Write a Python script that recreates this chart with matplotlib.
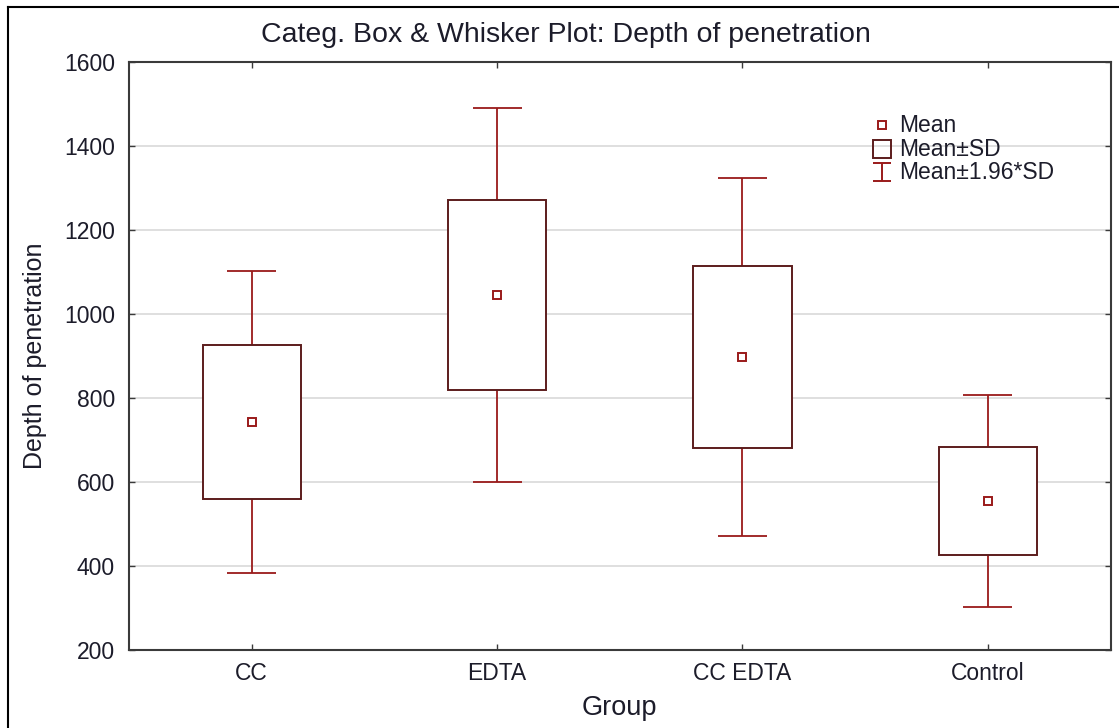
import matplotlib
matplotlib.use("Agg")
import matplotlib.pyplot as plt
from matplotlib.path import Path
from matplotlib.lines import Line2D
import numpy as np

# ---- data ----
groups = ["CC", "EDTA", "CC EDTA", "Control"]
means = [743, 1046, 898, 555]
sds = [184, 227, 217, 129]
z = 1.96
yticks = [200, 400, 600, 800, 1000, 1200, 1400, 1600]

title = "Categ. Box & Whisker Plot: Depth of penetration"
xlabel = "Group"
ylabel = "Depth of penetration"
legend_labels = ["Mean", "Mean\u00b1SD", "Mean\u00b11.96*SD"]

# ---- style ----
plt.rcParams['font.family'] = ['Liberation Sans', 'DejaVu Sans']
WHISK = '#9a1a1a'
BOXC = '#5c1c1c'
TXT = '#1c1c2a'
SPINE = '#3a3a3a'

fig = plt.figure(figsize=(11.19, 7.28), dpi=100)
ax = fig.add_axes([129/1119, 1-650/728, (1110.5-129)/1119, (650-62.3)/728])

x = np.arange(len(groups)) + 0.5
m = np.array(means, float)
s = np.array(sds, float)

ax.set_xlim(0, len(groups))
ax.set_ylim(200, 1600)
ax.set_yticks(yticks)
ax.set_xticks(x)
ax.set_xticklabels(groups)
ax.grid(axis='y', color='#dcdcdc', lw=1.3, zorder=0)
ax.set_axisbelow(True)

# whiskers
ax.vlines(x, m + s, m + z*s, color=WHISK, lw=1.3, zorder=2)
ax.vlines(x, m - z*s, m - s, color=WHISK, lw=1.3, zorder=2)
ax.hlines(m + z*s, x - 0.1, x + 0.1, color=WHISK, lw=1.3, zorder=2)
ax.hlines(m - z*s, x - 0.1, x + 0.1, color=WHISK, lw=1.3, zorder=2)
# boxes
ax.bar(x, 2*s, bottom=m - s, width=0.4, facecolor='white', edgecolor=BOXC, lw=1.4, zorder=3)
# means
ax.plot(x, m, ls='none', marker='s', ms=6, mfc='white', mec=WHISK, mew=1.4, zorder=4)

for sp in ax.spines.values():
    sp.set_color(SPINE)
    sp.set_linewidth(1.5)
ax.tick_params(axis='both', direction='in', length=4, width=1, color=SPINE,
               top=True, right=True, labelsize=16.5, labelcolor=TXT)
ax.tick_params(axis='y', pad=10)
ax.tick_params(axis='x', pad=9)

ax.set_xlabel(xlabel, fontsize=19.5, color=TXT)
ax.set_ylabel(ylabel, fontsize=18, color=TXT)
ax.xaxis.set_label_coords(0.5, (650-708)/587.7)
ax.xaxis.label.set_va('center')
ax.yaxis.set_label_coords((35-129)/981.5, 0.5)
ax.yaxis.label.set_va('center')

fig.text(566/1119, 1-35/728, title, ha='center', va='center', fontsize=20.5, color=TXT)

# legend (manual)
ibeam = Path([(-1, 1), (1, 1), (0, 1), (0, -1), (-1, -1), (1, -1)],
             [Path.MOVETO, Path.LINETO, Path.MOVETO, Path.LINETO, Path.MOVETO, Path.LINETO])
lx = (881.5-129)/981.5
ly = [(650-125)/587.7, (650-149)/587.7, (650-172)/587.7]
ax.plot([lx], [ly[0]], transform=ax.transAxes, ls='none', marker='s', ms=6, mfc='white',
        mec=WHISK, mew=1.4, zorder=5, clip_on=False)
ax.plot([lx], [ly[1]], transform=ax.transAxes, ls='none', marker='s', ms=12.5, mfc='none',
        mec=BOXC, mew=1.4, zorder=5, clip_on=False)
ax.plot([lx], [ly[2]], transform=ax.transAxes, ls='none', marker=ibeam, ms=12.5,
        mec=WHISK, mew=1.4, zorder=5, clip_on=False)
tx = (899-129)/981.5
for lab, yy in zip(legend_labels, ly):
    ax.text(tx, yy, lab, transform=ax.transAxes, ha='left', va='center', fontsize=16.5, color=TXT)

# figure frame
fig.add_artist(Line2D([8/1119, 8/1119], [1-7/728, -0.01], transform=fig.transFigure, color='black', lw=1.5))
fig.add_artist(Line2D([8/1119, 1.01], [1-7/728, 1-7/728], transform=fig.transFigure, color='black', lw=1.5))

fig.savefig("out.png", dpi=100)
